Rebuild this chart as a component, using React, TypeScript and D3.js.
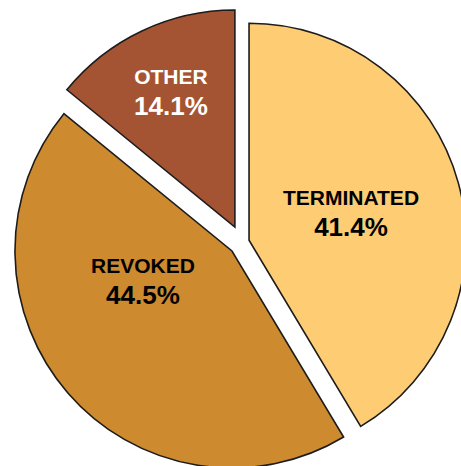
import * as d3 from 'd3'

// slice data, clockwise from 12 o'clock
const categories = ['TERMINATED', 'REVOKED', 'OTHER']
const shares = [41.4, 44.5, 14.1]
const colors = ['#fecc72', '#cd8a2f', '#a45433']
const textColors = ['#000000', '#000000', '#ffffff']
// how far each slice is pulled out from the center
const explode = [7.2, 13.4, 16.8]
// label placement inside each slice: angle (deg, clockwise from top) and radius fraction
const labelAngle = [75.2, 251.3, 334.6]
const labelRadius = [0.486, 0.433, 0.687]

const width = 461
const height = 466
const radius = 217
const cx = 242.1
const cy = 242.2

export default function App() {
  const pie = d3
    .pie<number>()
    .sort(null)
    .value(d => d)
    .startAngle(0)
    .endAngle(2 * Math.PI)
  const arcs = pie(shares)

  const arc = d3.arc<d3.PieArcDatum<number>>().innerRadius(0).outerRadius(radius)

  return (
    <svg
      width={width}
      height={height}
      style={{ position: 'absolute', left: 0, top: 0, background: '#fff' }}
      fontFamily="'Liberation Sans', Arial, sans-serif"
    >
      <g transform={`translate(${cx},${cy})`}>
        {arcs.map((a, i) => {
          const mid = (a.startAngle + a.endAngle) / 2
          const ox = Math.sin(mid) * explode[i]
          const oy = -Math.cos(mid) * explode[i]
          const la = (labelAngle[i] * Math.PI) / 180
          const lr = labelRadius[i] * radius
          const lx = Math.sin(la) * lr
          const ly = -Math.cos(la) * lr
          return (
            <g key={categories[i]} transform={`translate(${ox},${oy})`}>
              <path
                d={arc(a) ?? ''}
                fill={colors[i]}
                stroke="#1c1c1c"
                strokeWidth={1.6}
                strokeLinejoin="miter"
              />
              <text
                x={lx}
                y={ly - 8}
                textAnchor="middle"
                fontWeight="bold"
                fontSize={21}
                fill={textColors[i]}
              >
                {categories[i]}
              </text>
              <text
                x={lx}
                y={ly + 23}
                textAnchor="middle"
                fontWeight="bold"
                fontSize={26}
                fill={textColors[i]}
              >
                {d3.format('.1f')(shares[i])}%
              </text>
            </g>
          )
        })}
      </g>
    </svg>
  )
}
